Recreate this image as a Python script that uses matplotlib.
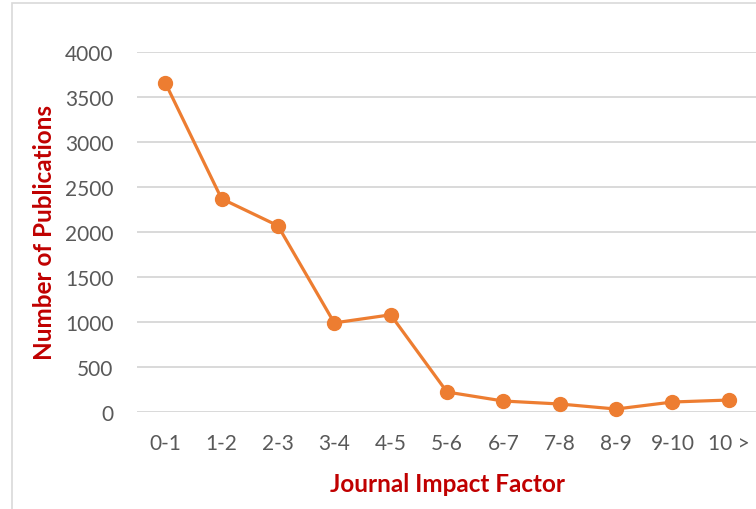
import matplotlib
matplotlib.use("Agg")
import matplotlib.pyplot as plt
from matplotlib.patches import Rectangle

# Data
categories = ["0-1", "1-2", "2-3", "3-4", "4-5", "5-6", "6-7", "7-8", "8-9", "9-10", "10 >"]
publications = [3660, 2370, 2070, 990, 1080, 222, 122, 89, 33, 111, 133]

plt.rcParams['font.family'] = ['Lato', 'DejaVu Sans']

fig = plt.figure(figsize=(7.56, 5.10), dpi=100)
ax = fig.add_axes([137 / 756, 97 / 510, 620 / 756, 360 / 510])

x = list(range(len(categories)))
ax.plot(x, publications, color='#ED7D31', linewidth=2.3, marker='o', markersize=10,
        zorder=5, clip_on=False)

ax.set_xlim(-0.5, len(categories) - 0.5)
ax.set_ylim(0, 4000)
ax.set_yticks(range(0, 4001, 500))
ax.set_xticks(x)
ax.set_xticklabels(categories)

ax.grid(axis='y', color='#D9D9D9', linewidth=1.4)
ax.set_axisbelow(True)
for s in ax.spines.values():
    s.set_visible(False)
ax.tick_params(axis='both', length=0, labelsize=15, colors='#595959')
ax.tick_params(axis='x', pad=15)
ax.tick_params(axis='y', pad=17)

ax.set_xlabel('Journal Impact Factor', fontsize=17.5, fontweight='bold', color='#C00000')
ax.set_ylabel('Number of Publications', fontsize=17.5, fontweight='bold', color='#C00000')
ax.xaxis.set_label_coords(0.5, -0.168)
ax.yaxis.set_label_coords(-0.131, 0.5)

# chart frame
frame = Rectangle((12 / 756, -0.1), 1.2, (510 - 4) / 510 + 0.1, transform=fig.transFigure,
                  fill=False, edgecolor='#D9D9D9', linewidth=1.2, clip_on=False)
fig.patches.append(frame)

fig.savefig('out.png', dpi=100)
